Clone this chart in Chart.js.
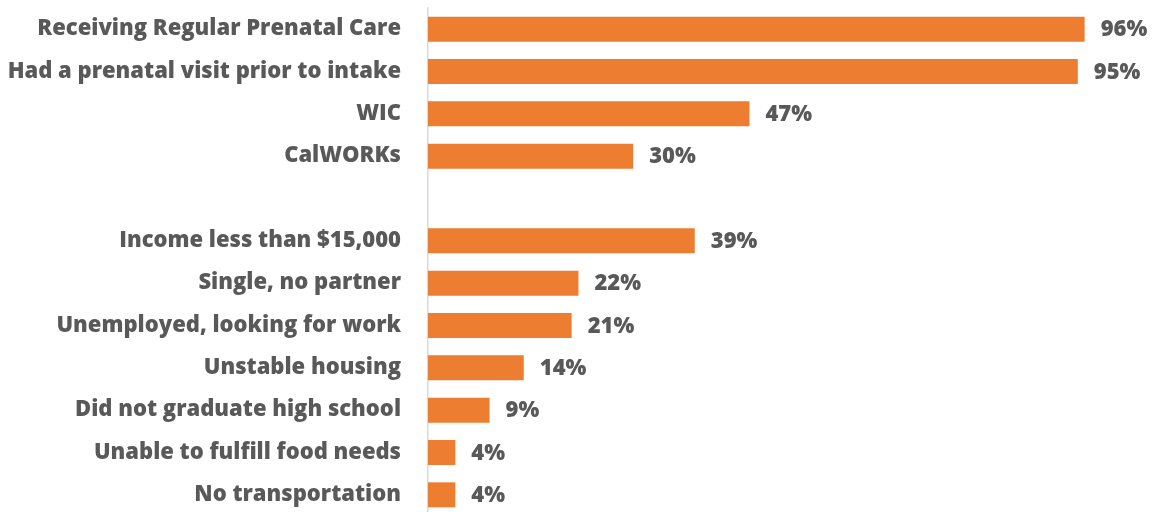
<!DOCTYPE html>
<html>
<head>
<meta charset="utf-8">
<script src="https://cdn.jsdelivr.net/npm/chart.js@4"></script>
<style>
  html, body { margin: 0; padding: 0; background: #fff; overflow: hidden; }
  #wrap { width: 1156px; height: 512px; overflow: hidden; }
</style>
</head>
<body>
<div id="wrap">
  <canvas id="myChart" width="1156" height="520"></canvas>
</div>
<script>
  // rows top to bottom; the blank entry leaves a gap between the two groups
  const labels = [
    'Receiving Regular Prenatal Care',
    'Had a prenatal visit prior to intake',
    'WIC',
    'CalWORKs',
    '',
    'Income less than $15,000',
    'Single, no partner',
    'Unemployed, looking for work',
    'Unstable housing',
    'Did not graduate high school',
    'Unable to fulfill food needs',
    'No transportation'
  ];
  const percents = [96, 95, 47, 30, null, 39, 22, 21, 14, 9, 4, 4];

  const textColor = '#595959';
  const barColor = '#ED7D31';
  const fontFamily = '"Open Sans", sans-serif';

  // value labels to the right of each bar
  const valueLabels = {
    id: 'valueLabels',
    afterDatasetsDraw(chart) {
      const ctx = chart.ctx;
      const meta = chart.getDatasetMeta(0);
      ctx.save();
      ctx.fillStyle = textColor;
      ctx.font = '800 22px ' + fontFamily;
      ctx.textAlign = 'left';
      ctx.textBaseline = 'middle';
      meta.data.forEach((bar, i) => {
        if (percents[i] == null) return;
        ctx.fillText(percents[i] + '%', bar.x + 16, bar.y + 1);
      });
      ctx.restore();
    }
  };

  const ctx = document.getElementById('myChart').getContext('2d');
  new Chart(ctx, {
    type: 'bar',
    data: {
      labels: labels,
      datasets: [{
        data: percents,
        backgroundColor: barColor,
        borderWidth: 0,
        barPercentage: 0.59,
        categoryPercentage: 1
      }]
    },
    options: {
      indexAxis: 'y',
      responsive: false,
      animation: false,
      layout: { padding: { top: 8, right: 44, bottom: 4, left: 0 } },
      plugins: {
        legend: { display: false },
        tooltip: { enabled: false }
      },
      scales: {
        x: {
          display: false,
          min: 0,
          max: 100
        },
        y: {
          grid: { display: false, drawTicks: false },
          border: { color: '#d9d9d9', width: 1.5 },
          afterFit(scale) {
            scale.width = 428;
            // no extra room above/below for the tick labels
            scale.paddingTop = 0;
            scale.paddingBottom = 0;
          },
          ticks: {
            padding: 27,
            color: textColor,
            font: { family: fontFamily, size: 22, weight: 800 }
          }
        }
      }
    },
    plugins: [valueLabels]
  });
</script>
</body>
</html>
